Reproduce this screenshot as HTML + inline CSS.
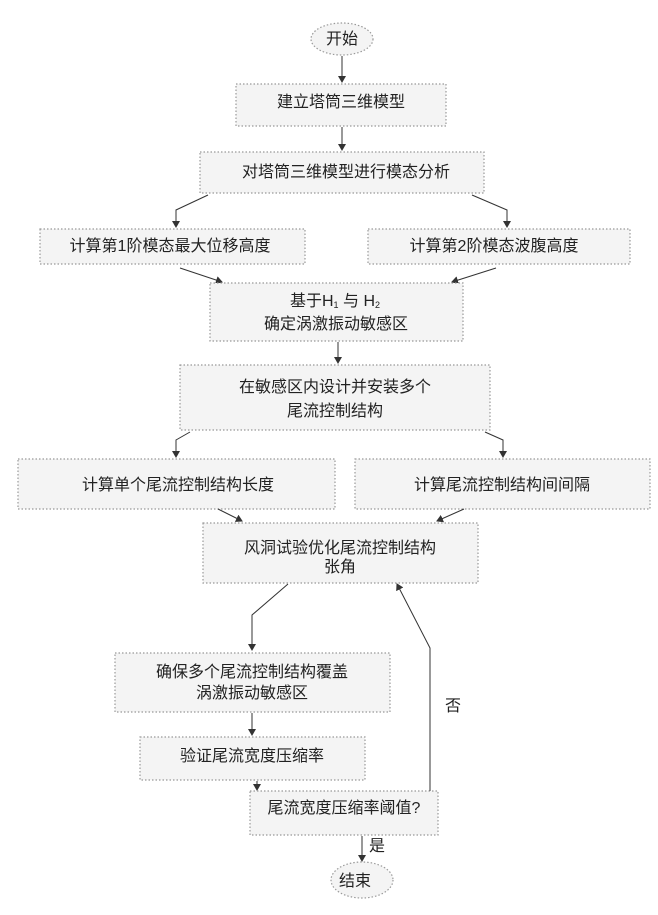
<!DOCTYPE html>
<html><head><meta charset="utf-8"><style>
body{margin:0;background:#fff;}
svg{display:block}
text{font-family:"Liberation Sans","Noto Sans CJK SC",sans-serif;fill:#222;font-size:16px;text-anchor:middle;}
.b{fill:#f4f4f4;stroke:#999;stroke-width:1.2;stroke-dasharray:1.5 2}
.l{stroke:#333;stroke-width:1;fill:none}
</style></head><body>
<svg width="658" height="915" viewBox="0 0 658 915" xmlns="http://www.w3.org/2000/svg">
<defs><marker id="a" markerWidth="8" markerHeight="8" refX="6" refY="4" orient="auto" markerUnits="userSpaceOnUse"><path d="M0,0 L7,4 L0,8 z" fill="#333"/></marker></defs>
<ellipse class="b" cx="342" cy="39" rx="31" ry="16"/>
<text x="342" y="44">开始</text>
<line class="l" x1="342" y1="56" x2="342" y2="82" marker-end="url(#a)"/>
<rect class="b" x="236" y="84" width="210" height="42"/>
<text x="341" y="107">建立塔筒三维模型</text>
<line class="l" x1="342" y1="127" x2="342" y2="150" marker-end="url(#a)"/>
<rect class="b" x="200" y="152" width="284" height="41"/>
<text x="346" y="177">对塔筒三维模型进行模态分析</text>
<polyline class="l" points="208,195 176,210 176,227" marker-end="url(#a)"/>
<polyline class="l" points="472,195 507,210 507,227" marker-end="url(#a)"/>
<rect class="b" x="40" y="229" width="265" height="35"/>
<text x="170" y="251">计算第1阶模态最大位移高度</text>
<rect class="b" x="368" y="229" width="262" height="35"/>
<text x="494" y="251">计算第2阶模态波腹高度</text>
<line class="l" x1="180" y1="268" x2="222" y2="282" marker-end="url(#a)"/>
<line class="l" x1="496" y1="268" x2="452" y2="282" marker-end="url(#a)"/>
<rect class="b" x="210" y="283" width="253" height="58"/>
<text x="335" y="306">基于H<tspan font-size="9" dy="2">1</tspan><tspan dy="-2"> 与 H</tspan><tspan font-size="9" dy="2">2</tspan></text>
<text x="336" y="329">确定涡激振动敏感区</text>
<line class="l" x1="338" y1="342" x2="338" y2="363" marker-end="url(#a)"/>
<rect class="b" x="180" y="365" width="310" height="65"/>
<text x="335" y="392">在敏感区内设计并安装多个</text>
<text x="335" y="416">尾流控制结构</text>
<polyline class="l" points="190,432 176,440 176,457" marker-end="url(#a)"/>
<polyline class="l" points="485,432 503,440 503,457" marker-end="url(#a)"/>
<rect class="b" x="18" y="459" width="317" height="50"/>
<text x="178" y="490">计算单个尾流控制结构长度</text>
<rect class="b" x="355" y="459" width="295" height="50"/>
<text x="502" y="490">计算尾流控制结构间间隔</text>
<line class="l" x1="218" y1="509" x2="242" y2="521" marker-end="url(#a)"/>
<line class="l" x1="464" y1="509" x2="437" y2="521" marker-end="url(#a)"/>
<rect class="b" x="203" y="523" width="275" height="60"/>
<text x="340" y="553">风洞试验优化尾流控制结构</text>
<text x="340" y="572">张角</text>
<polyline class="l" points="288,584 252,615 252,650" marker-end="url(#a)"/>
<rect class="b" x="115" y="653" width="275" height="59"/>
<text x="252" y="677">确保多个尾流控制结构覆盖</text>
<text x="252" y="698">涡激振动敏感区</text>
<line class="l" x1="252" y1="713" x2="252" y2="735" marker-end="url(#a)"/>
<rect class="b" x="140" y="737" width="225" height="43"/>
<text x="252" y="761">验证尾流宽度压缩率</text>
<line class="l" x1="257" y1="781" x2="257" y2="790" marker-end="url(#a)"/>
<rect class="b" x="250" y="791" width="188" height="44"/>
<text x="344" y="813">尾流宽度压缩率阈值?</text>
<polyline class="l" points="430,791 430,648 397,584" marker-end="url(#a)"/>
<text x="453" y="711" font-size="17">否</text>
<line class="l" x1="362" y1="836" x2="362" y2="861" marker-end="url(#a)"/>
<text x="377" y="851" font-size="10">是</text>
<ellipse class="b" cx="362" cy="880" rx="31" ry="18"/>
<text x="355" y="886">结束</text>
</svg>
</body></html>
